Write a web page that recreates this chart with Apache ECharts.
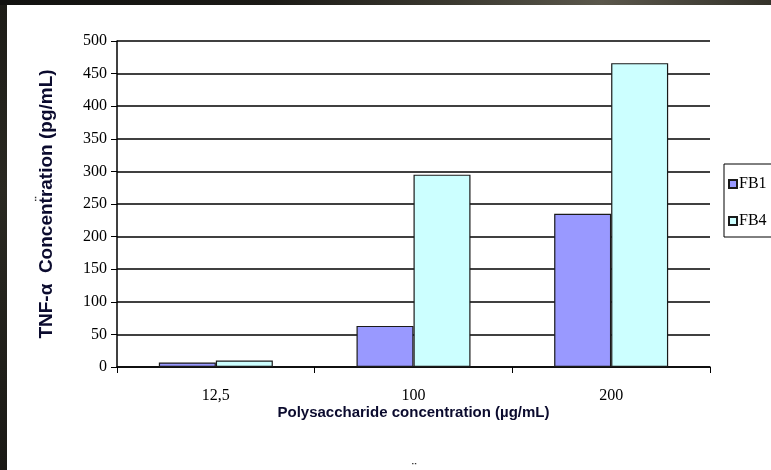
<!DOCTYPE html>
<html>
<head>
<meta charset="utf-8">
<script src="https://cdn.jsdelivr.net/npm/echarts@6/dist/echarts.min.js"></script>
<style>
  html, body { margin: 0; padding: 0; width: 771px; height: 470px; overflow: hidden; }
  body {
    background: linear-gradient(90deg, #121210 0%, #1b1a16 35%, #3a382f 58%, #5a574b 78%, #34322a 100%);
    position: relative;
  }
  #frame {
    position: absolute; left: 0; top: 5px; width: 7px; height: 465px;
    background: linear-gradient(180deg, #1d1c17 0%, #2a2922 40%, #1a1915 100%);
  }
  #chart { position: absolute; left: 7px; top: 5px; width: 764px; height: 465px; background: #fff; }
</style>
</head>
<body>
<div id="frame"></div>
<div id="chart"></div>
<script>
// Polysaccharide dose levels (µg/mL) and measured TNF-α (pg/mL)
const categories = ['12,5', '100', '200'];
const fb1Values = [7, 63, 235];
const fb4Values = [10, 295, 466];
const seriesNames = ['FB1', 'FB4'];
const yTicks = { min: 0, max: 500, step: 50 };

const chart = echarts.init(document.getElementById('chart'), null, { renderer: 'canvas' });

const serif = '"Liberation Serif", "Times New Roman", serif';
const sans = '"Liberation Sans", Arial, sans-serif';
const titleColor = '#0b0b2e';

chart.setOption({
  backgroundColor: '#ffffff',
  animation: false,
  grid: { left: 110, right: 61, top: 36, bottom: 103, containLabel: false },
  legend: {
    left: 717,
    top: 159,
    orient: 'vertical',
    itemWidth: 8,
    itemHeight: 8,
    itemGap: 21,
    padding: [12, 12, 8, 4],
    borderColor: '#000',
    borderWidth: 1,
    borderRadius: 0,
    icon: 'rect',
    textStyle: { fontFamily: serif, fontSize: 16, color: '#000', lineHeight: 16, padding: [0, 0, 0, -3] },
    data: seriesNames
  },
  xAxis: {
    type: 'category',
    data: categories,
    name: 'Polysaccharide concentration (µg/mL)',
    nameLocation: 'middle',
    nameGap: 38,
    nameMoveOverlap: false,
    nameTextStyle: { fontFamily: sans, fontWeight: 'bold', fontSize: 15, color: titleColor },
    axisLine: { lineStyle: { color: '#000', width: 1.5 } },
    axisTick: { show: true, length: 6, lineStyle: { color: '#000', width: 1 } },
    axisLabel: { fontFamily: serif, fontSize: 16, color: '#000', margin: 21 }
  },
  yAxis: {
    type: 'value',
    min: yTicks.min,
    max: yTicks.max,
    interval: yTicks.step,
    name: 'TNF-α  Concentration (pg/mL)',
    nameLocation: 'middle',
    nameGap: 61,
    nameMoveOverlap: false,
    nameTextStyle: { fontFamily: sans, fontWeight: 'bold', fontSize: 19, color: titleColor },
    axisLine: { show: true, lineStyle: { color: '#000', width: 1.5 } },
    axisTick: { show: true, length: 6, lineStyle: { color: '#000', width: 1 } },
    axisLabel: { fontFamily: serif, fontSize: 16, color: '#000', margin: 10 },
    splitLine: { show: true, lineStyle: { color: '#000', width: 1.5 } }
  },
  series: [
    {
      name: seriesNames[0],
      type: 'bar',
      data: fb1Values,
      barWidth: 57,
      barGap: '0%',
      itemStyle: { color: '#9999ff', borderColor: '#1a1a1a', borderWidth: 1.2 }
    },
    {
      name: seriesNames[1],
      type: 'bar',
      data: fb4Values,
      barWidth: 57,
      barGap: '0%',
      itemStyle: { color: '#ccffff', borderColor: '#1a1a1a', borderWidth: 1.2 }
    }
  ],
  graphic: [
    { type: 'text', x: 27, y: 196, rotation: Math.PI / 2,
      style: { text: '¨', font: 'bold 13px ' + sans, fill: '#333' } },
    { type: 'text', x: 405, y: 457,
      style: { text: '¨', font: 'bold 13px ' + sans, fill: '#333' } }
  ]
});
</script>
</body>
</html>
